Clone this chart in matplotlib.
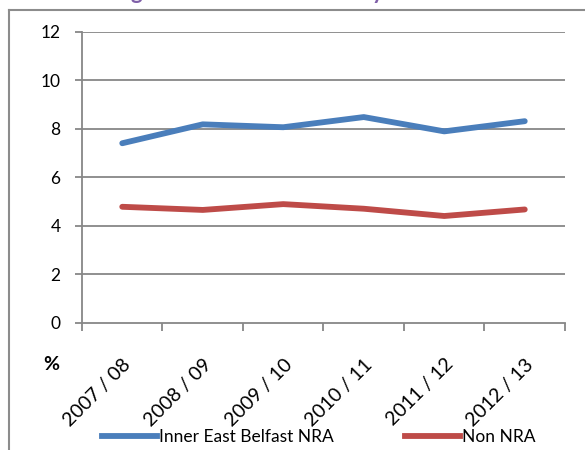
import matplotlib
matplotlib.use("Agg")
import matplotlib.pyplot as plt
from matplotlib.lines import Line2D

plt.rcParams['font.family'] = ['Lato', 'DejaVu Sans']

categories = ["2007 / 08", "2008 / 09", "2009 / 10", "2010 / 11", "2011 / 12", "2012 / 13"]
inner_east = [7.40, 8.18, 8.06, 8.48, 7.89, 8.31]
non_nra = [4.78, 4.65, 4.89, 4.70, 4.40, 4.67]
series_names = ["Inner East Belfast NRA", "Non NRA"]
yticks = [0, 2, 4, 6, 8, 10, 12]

W, H = 585, 450
fig = plt.figure(figsize=(W / 100, H / 100), dpi=100)
ax = fig.add_axes([82 / W, 1 - 322.7 / H, (565 - 82) / W, (322.7 - 31.7) / H])

grid_c = "#878787"
blue = "#4A7EBB"
red = "#BE4B48"

x = list(range(len(categories)))
ax.plot(x, inner_east, color=blue, lw=4.2, solid_capstyle='round', solid_joinstyle='round', zorder=3)
ax.plot(x, non_nra, color=red, lw=4.2, solid_capstyle='round', solid_joinstyle='round', zorder=3)

ax.set_xlim(-0.5, len(categories) - 0.5)
ax.set_ylim(0, 12)
ax.set_yticks(yticks)
ax.set_yticklabels([str(v) for v in yticks], fontsize=12.5)
ax.set_xticks([i - 0.5 for i in range(len(categories) + 1)])
ax.set_xticklabels([])
for yv in yticks[1:]:
    ax.axhline(yv, color=grid_c, lw=1.3, zorder=1)

for s in ['top', 'right']:
    ax.spines[s].set_visible(False)
for s in ['left', 'bottom']:
    ax.spines[s].set_color(grid_c)
    ax.spines[s].set_linewidth(1.3)
ax.tick_params(axis='y', length=5, width=1.3, color=grid_c, pad=10.5)
ax.tick_params(axis='x', length=6, width=1.3, color=grid_c)

for i, lab in enumerate(categories):
    ax.annotate(lab, xy=(i, 0), xycoords='data', xytext=(0, -33), textcoords='offset pixels',
                rotation=45, rotation_mode='anchor', ha='right', va='top', fontsize=14)

fig.text(51 / W, 1 - 365 / H, "%", fontsize=14, fontweight='bold', ha='center', va='center')

# outer chart frame
fig.add_artist(Line2D([8.5 / W, 8.5 / W], [0, 1 - 9.5 / H], color="#8c8c8c", lw=1.5, transform=fig.transFigure))
fig.add_artist(Line2D([8.5 / W, 1], [1 - 9.5 / H, 1 - 9.5 / H], color="#8c8c8c", lw=1.5, transform=fig.transFigure))

# clipped title glyphs visible above frame
fig.text(136 / W, 1 + 1 / H, "g", color="#7F5FA8", fontsize=16, fontweight='bold', ha='center', va='baseline')
fig.text(378 / W, 1 + 1 / H, "y", color="#7F5FA8", fontsize=16, fontweight='bold', ha='center', va='baseline')

handles = [Line2D([], [], color=blue, lw=4.2), Line2D([], [], color=red, lw=4.2)]
fig.legend(handles, series_names, loc='center', bbox_to_anchor=(318.5 / W, 1 - 437 / H), ncol=2,
           frameon=False, fontsize=12.5, handlelength=3.16, handletextpad=0.12, columnspacing=4.1,
           borderpad=0.0)

fig.savefig("out.png", dpi=100)
